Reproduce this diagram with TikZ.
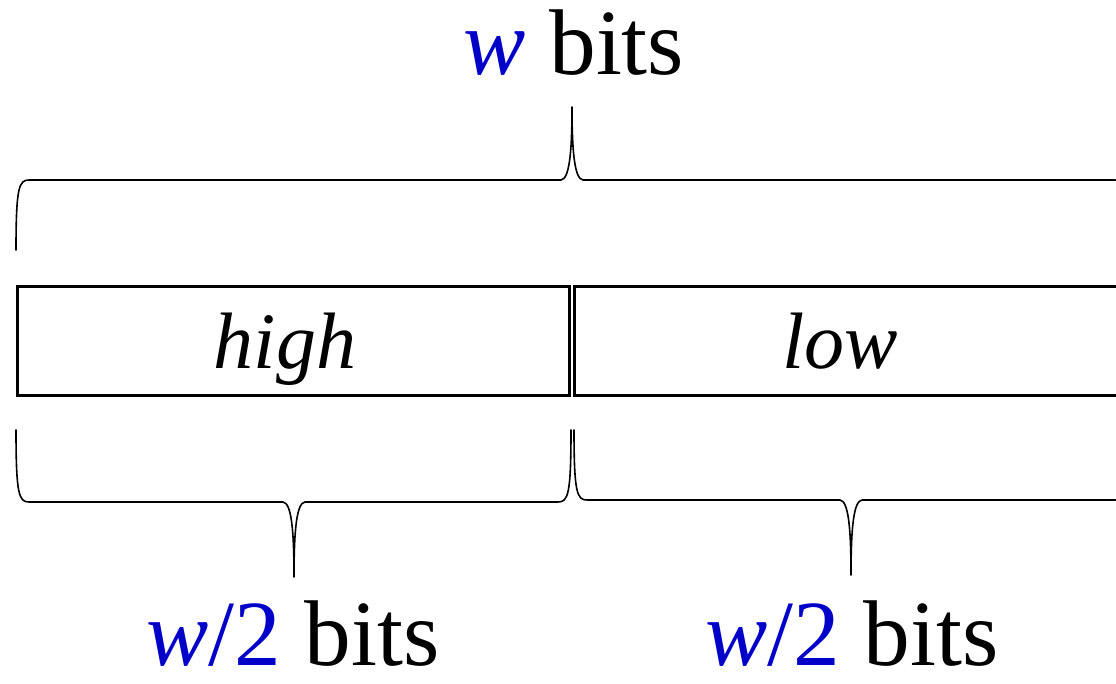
\documentclass[tikz,border=0pt]{standalone}
\usepackage{fontspec}
\setmainfont{Liberation Serif}
\definecolor{wblue}{RGB}{0,0,200}
\begin{document}
\begin{tikzpicture}[x=0.75pt,y=-0.75pt,
  cell/.style={draw, line width=2.25pt, minimum height=81.75pt, inner sep=0pt, anchor=center},
  cellText/.style={anchor=base, inner sep=0pt, font=\fontsize{60}{70}\selectfont\itshape},
  brace/.style={line width=1.2pt, line cap=round, line join=round},
  lbl/.style={anchor=base, inner sep=0pt, font=\fontsize{70}{84}\selectfont}]
\useasboundingbox (0,0) rectangle (1116,684);
% cells
\node (highbox) [cell, minimum width=414pt] at (293,340.5) {};
\node (lowbox) [cell, minimum width=417pt] at (852,340.5) {};
\node (high) [cellText] at (285,368) {high};
\node (low) [cellText] at (840,368) {low};
% brace coordinates
\coordinate (tL) at (16,250);
\coordinate (tT) at (572,107);
\coordinate (tR) at (1128,250);
\coordinate (bL1) at (16,430);
\coordinate (bT1) at (294,577);
\coordinate (bR1) at (571,430);
\coordinate (bL2) at (574,430);
\coordinate (bT2) at (851,575);
\coordinate (bR2) at (1128,430);
% top brace
\draw[brace] (tL) .. controls (16,187) and (19,180) .. (29,180) -- (561,180)
  .. controls (569,179) and (572,155) .. (tT)
  .. controls (572,155) and (575,179) .. (583,180) -- (1115,180)
  .. controls (1125,180) and (1128,187) .. (tR);
% bottom left brace
\draw[brace] (bL1) .. controls (16,495) and (19,502) .. (29,502) -- (283,502)
  .. controls (291,503) and (294,527) .. (bT1)
  .. controls (294,527) and (297,503) .. (305,502) -- (558,502)
  .. controls (568,502) and (571,495) .. (bR1);
% bottom right brace
\draw[brace] (bL2) .. controls (574,493) and (577,500) .. (587,500) -- (840,500)
  .. controls (848,501) and (851,525) .. (bT2)
  .. controls (851,525) and (854,501) .. (862,500) -- (1115,500)
  .. controls (1125,500) and (1128,493) .. (bR2);
% labels
\node (wtop) [lbl] at (574,75) {\textcolor{wblue}{\textit{w}} bits};
\node (whalf1) [lbl] at (293,665) {\textcolor{wblue}{\textit{w}/2} bits};
\node (whalf2) [lbl] at (852,665) {\textcolor{wblue}{\textit{w}/2} bits};
\end{tikzpicture}
\end{document}
